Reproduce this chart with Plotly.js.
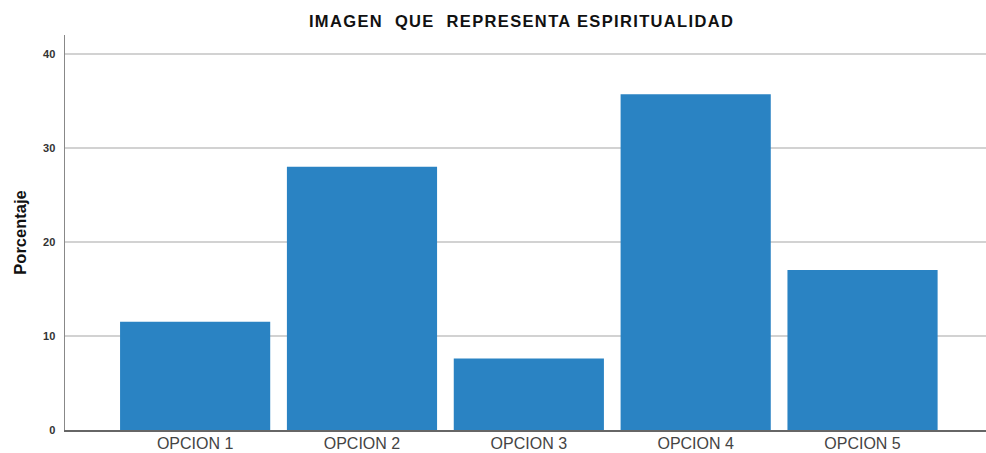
<!DOCTYPE html>
<html>
<head>
<meta charset="utf-8">
<script src="https://cdn.plot.ly/plotly-3.0.1.min.js"></script>
<style>html,body{margin:0;padding:0;background:#fff;}#chart{width:986px;height:453px;}
#chart .gtitle{letter-spacing:1.35px;}
</style>
</head>
<body>
<div id="chart"></div>
<script>
const categories = ["OPCION 1", "OPCION 2", "OPCION 3", "OPCION 4", "OPCION 5"];
const porcentaje = [11.5, 28.0, 7.6, 35.7, 17.0];
const yTicks = [0, 10, 20, 30, 40];

const trace = {
  type: "bar",
  x: categories,
  y: porcentaje,
  width: 0.9,
  marker: {color: "#2a83c3", line: {width: 0}},
  hoverinfo: "x+y"
};

const layout = {
  width: 986,
  height: 453,
  margin: {l: 65, r: 0, t: 35, b: 23},
  paper_bgcolor: "#fff",
  plot_bgcolor: "#fff",
  showlegend: false,
  title: {
    text: "IMAGEN&nbsp; QUE&nbsp; REPRESENTA ESPIRITUALIDAD",
    x: 0.529, xanchor: "center",
    y: 0.953, yanchor: "middle",
    font: {family: "Liberation Sans, Arial, sans-serif", size: 16.5, color: "#111", weight: "bold"}
  },
  xaxis: {
    range: [-0.78, 4.74],
    showgrid: false,
    showline: true,
    linecolor: "#666",
    linewidth: 1.5,
    ticks: "",
    ticklabelstandoff: -2,
    tickfont: {family: "Liberation Sans, Arial, sans-serif", size: 16, color: "#444"},
    fixedrange: true
  },
  yaxis: {
    range: [0, 42],
    tickvals: yTicks,
    ticktext: yTicks.map(String),
    showgrid: true,
    gridcolor: "#d2d2d2",
    gridwidth: 1.5,
    zeroline: false,
    showline: true,
    linecolor: "#888",
    linewidth: 1.5,
    ticks: "",
    ticklabelstandoff: 6,
    tickfont: {family: "Liberation Sans, Arial, sans-serif", size: 11, color: "#333", weight: "bold"},
    title: {
      text: "Porcentaje",
      standoff: 12,
      font: {family: "Liberation Sans Narrow, Liberation Sans, Arial, sans-serif", size: 16.5, color: "#111", weight: "bold"}
    },
    fixedrange: true
  }
};

Plotly.newPlot("chart", [trace], layout, {displayModeBar: false, staticPlot: true});
</script>
</body>
</html>
